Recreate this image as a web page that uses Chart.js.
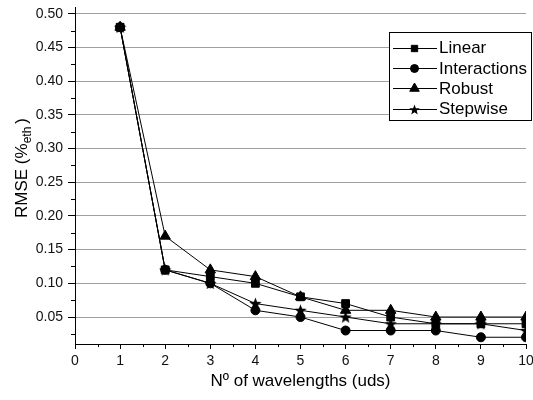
<!DOCTYPE html>
<html><head><meta charset="utf-8">
<script src="https://cdn.jsdelivr.net/npm/chart.js@4/dist/chart.umd.min.js"></script>
<style>html,body{margin:0;padding:0;background:#fff;}</style>
</head><body>
<canvas id="c" width="533" height="400"></canvas>
<script>
// ---- data ----
const wavelengths = [1, 2, 3, 4, 5, 6, 7, 8, 9, 10];
const linear       = [0.48, 0.12, 0.11, 0.10, 0.08, 0.07, 0.05, 0.04, 0.04, 0.04];
const interactions = [0.48, 0.12, 0.10, 0.06, 0.05, 0.03, 0.03, 0.03, 0.02, 0.02];
const robust       = [0.48, 0.17, 0.12, 0.11, 0.08, 0.06, 0.06, 0.05, 0.05, 0.05];
const stepwise     = [0.48, 0.12, 0.10, 0.07, 0.06, 0.05, 0.04, 0.04, 0.04, 0.03];
const seriesNames  = ['Linear', 'Interactions', 'Robust', 'Stepwise'];
const xTicks = [0, 1, 2, 3, 4, 5, 6, 7, 8, 9, 10];
const yTicks = [0.05, 0.10, 0.15, 0.20, 0.25, 0.30, 0.35, 0.40, 0.45, 0.50];
const xTitle = 'Nº of wavelengths (uds)';
const yTitleMain = 'RMSE (%';
const yTitleSub = 'eth';
const yTitleEnd = ')';

const FONT = '"Liberation Sans", Arial, sans-serif';

function makeStar(size) {
  const c = document.createElement('canvas');
  c.width = c.height = size;
  const g = c.getContext('2d');
  const cx = size / 2, cy = size / 2 + 0.5, R = size / 2, r = R * 0.42;
  g.beginPath();
  for (let i = 0; i < 10; i++) {
    const a = -Math.PI / 2 + i * Math.PI / 5;
    const rad = i % 2 ? r : R;
    g.lineTo(cx + rad * Math.cos(a), cy + rad * Math.sin(a));
  }
  g.closePath();
  g.fillStyle = '#000';
  g.fill();
  return c;
}
const starBig = makeStar(13);
const starSmall = makeStar(11);

const seriesValues = [linear, interactions, robust, stepwise];
const styles = ['rect', 'circle', 'triangle', starBig];
const legendStyles = ['rect', 'circle', 'triangle', starSmall];
const radii = [5.5, 4.5, 6, 6];
const legendRadii = [4.5, 4, 5.5, 5];

const decor = {
  id: 'decor',
  afterDraw(chart) {
    const ctx = chart.ctx, xs = chart.scales.x, ys = chart.scales.y, area = chart.chartArea;
    ctx.save();
    ctx.strokeStyle = '#000';
    ctx.lineWidth = 1;
    // minor ticks
    for (let i = 0; i < yTicks.length; i++) {
      const v = yTicks[i] - 0.025;
      if (v < ys.min) continue;
      const py = Math.round(ys.getPixelForValue(v)) + 0.5;
      ctx.beginPath(); ctx.moveTo(area.left - 4, py); ctx.lineTo(area.left, py); ctx.stroke();
    }
    for (let i = 0; i < xTicks.length - 1; i++) {
      const v = (xTicks[i] + xTicks[i + 1]) / 2;
      const px = Math.round(xs.getPixelForValue(v)) + 0.5;
      ctx.beginPath(); ctx.moveTo(px, area.bottom); ctx.lineTo(px, area.bottom + 3); ctx.stroke();
    }
    // axis titles
    ctx.fillStyle = '#000';
    ctx.font = '17px ' + FONT;
    ctx.textAlign = 'center';
    ctx.textBaseline = 'middle';
    ctx.fillText(xTitle, (area.left + area.right) / 2, 381);

    ctx.save();
    ctx.translate(27, 168);
    ctx.rotate(-Math.PI / 2);
    ctx.textAlign = 'left';
    ctx.textBaseline = 'alphabetic';
    ctx.font = '17px ' + FONT;
    const w1 = ctx.measureText(yTitleMain).width;
    const w3 = ctx.measureText(yTitleEnd).width;
    ctx.font = '12px ' + FONT;
    const w2 = ctx.measureText(yTitleSub).width;
    const total = w1 + w2 + 3 + w3;
    let x0 = -total / 2;
    ctx.font = '17px ' + FONT;
    ctx.fillText(yTitleMain, x0, 0);
    ctx.font = '12px ' + FONT;
    ctx.fillText(yTitleSub, x0 + w1, 4);
    ctx.font = '17px ' + FONT;
    ctx.fillText(yTitleEnd, x0 + w1 + w2 + 3, 0);
    ctx.restore();

    // legend
    const lx = 389.5, ly = 32.5, lw = 142, lh = 88;
    ctx.fillStyle = '#fff';
    ctx.fillRect(lx, ly, lw, lh);
    ctx.strokeStyle = '#000';
    ctx.strokeRect(lx, ly, lw, lh);
    ctx.font = '17px ' + FONT;
    ctx.textAlign = 'left';
    ctx.textBaseline = 'middle';
    seriesNames.forEach((name, i) => {
      const y = 47.5 + i * 20.4;
      ctx.strokeStyle = '#000';
      ctx.lineWidth = 1;
      ctx.beginPath(); ctx.moveTo(393, Math.round(y) + 0.5); ctx.lineTo(437, Math.round(y) + 0.5); ctx.stroke();
      ctx.fillStyle = '#000';
      Chart.helpers.drawPoint(ctx, {pointStyle: legendStyles[i], radius: legendRadii[i], rotation: 0, borderWidth: 1}, 414.5, Math.round(y) + 0.5);
      ctx.fillStyle = '#000';
      ctx.fillText(name, 439, y + 1);
    });
    ctx.restore();
  }
};

new Chart(document.getElementById('c').getContext('2d'), {
  type: 'line',
  data: {
    datasets: seriesNames.map((n, i) => ({
      label: n,
      data: wavelengths.map((x, j) => ({x: x, y: seriesValues[i][j]})),
      borderColor: '#000',
      backgroundColor: '#000',
      pointBackgroundColor: '#000',
      pointBorderColor: '#000',
      borderWidth: 1,
      pointBorderWidth: 1,
      pointStyle: styles[i],
      pointRadius: radii[i],
      tension: 0,
      fill: false
    }))
  },
  options: {
    responsive: false,
    animation: false,
    devicePixelRatio: 1,
    layout: {padding: {top: 5, right: 6, left: 0, bottom: 0}},
    plugins: {legend: {display: false}, tooltip: {enabled: false}},
    scales: {
      x: {
        type: 'linear', min: 0, max: 10,
        afterBuildTicks(s) { s.ticks = xTicks.map(v => ({value: v})); },
        afterFit(s) { s.height = 56; s.paddingLeft = 0; s.paddingRight = 0; },
        grid: {drawOnChartArea: false, drawTicks: true, tickLength: 5, tickColor: '#000'},
        border: {display: true, color: '#000', width: 1},
        ticks: {font: {family: FONT, size: 14}, color: '#111', padding: 4, maxRotation: 0, autoSkip: false,
                callback: v => String(v)}
      },
      y: {
        type: 'linear', min: 0.01, max: 0.51,
        afterBuildTicks(s) { s.ticks = yTicks.map(v => ({value: v})); },
        afterFit(s) { s.width = 75; s.paddingTop = 0; s.paddingBottom = 0; },
        grid: {color: '#a0a0a0', lineWidth: 1, drawTicks: true, tickLength: 7, tickColor: '#000'},
        border: {display: true, color: '#000', width: 1},
        ticks: {font: {family: FONT, size: 14}, color: '#111', padding: 5, autoSkip: false,
                callback: v => Number(v).toFixed(2)}
      }
    }
  },
  plugins: [decor]
});
</script>
</body></html>
